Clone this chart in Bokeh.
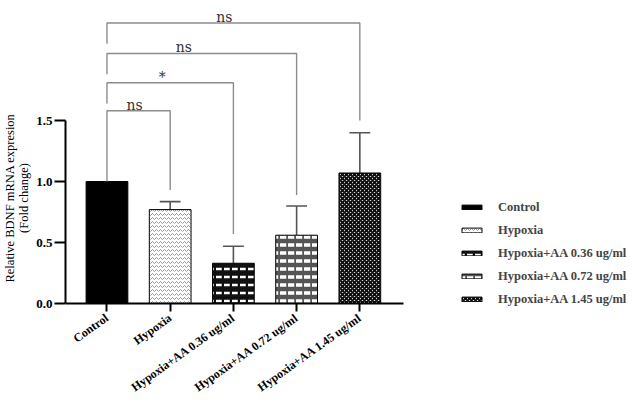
from bokeh.plotting import figure
from bokeh.models import Range1d, FixedTicker, Legend, LegendItem, ColumnDataSource, PrintfTickFormatter
from bokeh.core.properties import value
from bokeh.embed import file_html
from bokeh.resources import INLINE

# ---- data ----
categories = ["Control", "Hypoxia", "Hypoxia+AA 0.36 ug/ml",
              "Hypoxia+AA 0.72 ug/ml", "Hypoxia+AA 1.45 ug/ml"]
means = [1.00, 0.77, 0.33, 0.56, 1.07]
errors = [0.0, 0.065, 0.14, 0.24, 0.33]
y_ticks = [0.0, 0.5, 1.0, 1.5]

# significance brackets: Control vs category index
comp_target = [4, 3, 2, 1]
comp_label = ["ns", "ns", "*", "ns"]
comp_level = [2.30, 2.05, 1.81, 1.58]
comp_left_end = [2.13, 1.88, 1.64, 1.00]
comp_right_end = [1.50, 0.89, 0.57, 0.93]

# ---- styles ----
fills = ["black", "white", "#111111", "#555555", "white"]
hatches = [" ", "horizontal_wave", "horizontal_dash", "horizontal_dash", "diagonal_cross"]
hatch_colors = ["black", "#999999", "white", "white", "#111111"]
hatch_scales = [12, 4, 8, 8, 4]
hatch_weights = [1, 1, 2.5, 3.5, 2]
label_dx = [-9, -18, -8, -4]

SERIF = "Liberation Serif"
xs = list(range(len(categories)))

p = figure(width=628, height=395, output_backend="svg", toolbar_location=None,
           x_range=Range1d(-0.656, 8.25), y_range=Range1d(-0.754, 2.484),
           min_border_left=58, min_border_right=0, min_border_top=0,
           min_border_bottom=0)
p.outline_line_color = None
p.xgrid.visible = False
p.ygrid.visible = False
p.background_fill_color = "white"

src = ColumnDataSource(dict(x=xs, top=means, fill=fills, hatch=hatches,
                            hc=hatch_colors, hs=hatch_scales, hw=hatch_weights))

# error bars (upper only)
err_top = [m + e for m, e in zip(means, errors)]
ex = [x for x, e in zip(xs, errors) if e > 0]
ey0 = [m for m, e in zip(means, errors) if e > 0]
ey1 = [t for t, e in zip(err_top, errors) if e > 0]
p.segment(x0=ex, y0=ey0, x1=ex, y1=ey1, line_color="#555555", line_width=1.6)
p.segment(x0=[x - 0.165 for x in ex], y0=ey1, x1=[x + 0.165 for x in ex], y1=ey1,
          line_color="#555555", line_width=1.6)

bars = p.vbar(x="x", top="top", bottom=0, width=0.66, source=src,
              fill_color="fill", line_color="black", line_width=1,
              hatch_pattern="hatch", hatch_color="hc", hatch_scale="hs",
              hatch_weight="hw")

# significance brackets
for t, lv, le, re in zip(comp_target, comp_level, comp_left_end, comp_right_end):
    p.line(x=[0, 0, t, t], y=[le, lv, lv, re], line_color="#8c8c8c", line_width=1.4)

p.text(x=[t / 2 for t in comp_target], y=comp_level, text=comp_label,
       x_offset=label_dx, y_offset=-6,
       text_font=value("DejaVu Serif"), text_font_size="14px",
       text_color="#333333", text_align="center", text_baseline="alphabetic")

# axes
p.xaxis.ticker = FixedTicker(ticks=xs)
p.xaxis.major_label_overrides = {i: c for i, c in zip(xs, categories)}
p.xaxis.bounds = (-0.656, 4.69)
p.xaxis.fixed_location = 0
p.xaxis.major_label_orientation = 0.62
p.yaxis.ticker = FixedTicker(ticks=y_ticks)
p.yaxis.bounds = (0, 1.5)
p.yaxis.formatter = PrintfTickFormatter(format="%.1f")
for ax in (p.xaxis[0], p.yaxis[0]):
    ax.axis_line_width = 2
    ax.major_tick_line_width = 2
    ax.major_tick_in = 0
    ax.minor_tick_out = 0
    ax.minor_tick_in = 0
    ax.major_label_text_font = SERIF
    ax.major_label_text_font_style = "bold"
    ax.major_label_text_color = "black"
p.xaxis.major_tick_out = 8
p.xaxis.major_label_standoff = 5
p.xaxis.major_label_text_font_size = "12px"
p.yaxis.major_tick_out = 11
p.yaxis.major_label_standoff = 2
p.yaxis.major_label_text_font_size = "13px"
p.yaxis.axis_label = "Relative BDNF mRNA expresion\n(Fold change)"
p.yaxis.axis_label_text_font = SERIF
p.yaxis.axis_label_text_font_style = "normal"
p.yaxis.axis_label_text_font_size = "12.5px"
p.yaxis.axis_label_text_line_height = 1.0
p.yaxis.axis_label_text_color = "black"
p.yaxis.axis_label_standoff = 2

legend = Legend(items=[LegendItem(label=c, renderers=[bars], index=i)
                       for i, c in enumerate(categories)],
                location=(394, 87), padding=0, margin=0, spacing=5,
                glyph_width=25, glyph_height=6, label_height=18,
                label_standoff=14, border_line_color=None,
                background_fill_alpha=0,
                label_text_font=SERIF, label_text_font_style="bold",
                label_text_font_size="12.5px")
p.add_layout(legend, "center")

open("out.html", "w").write(file_html(p, INLINE))
